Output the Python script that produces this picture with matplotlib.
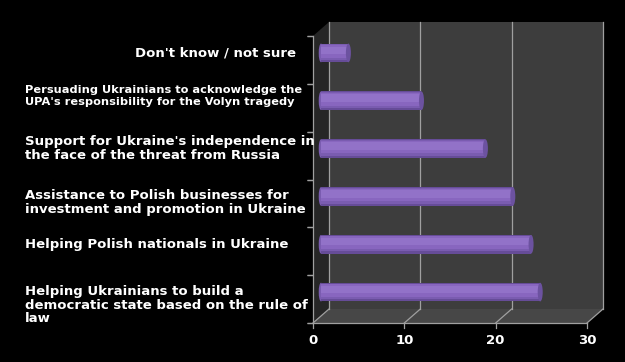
import matplotlib.pyplot as plt
import matplotlib.transforms as mtransforms
from matplotlib.patches import Polygon, Ellipse
import numpy as np

## Data (bottom to top)
labels = ["Helping Ukrainians to build a\ndemocratic state based on the rule of\nlaw",
          "Helping Polish nationals in Ukraine",
          "Assistance to Polish businesses for\ninvestment and promotion in Ukraine",
          "Support for Ukraine's independence in\nthe face of the threat from Russia",
          "Persuading Ukrainians to acknowledge the\nUPA's responsibility for the Volyn tragedy",
          "Don't know / not sure"]
values = [24, 23, 21, 18, 11, 3]
xticks = [0, 10, 20, 30]

W, H = 625, 362
fig = plt.figure(figsize=(W / 100, H / 100), dpi=100, facecolor="black")
# front plane of the 3D box, in pixels
ax = fig.add_axes([313 / W, 39 / H, 274 / W, 287 / H])
ax.set_xlim(0, 30)
ax.set_ylim(-0.5, 5.5)
ax.axis("off")
ax.patch.set_visible(False)

def shifted(dx, dy, base=None):
    base = ax.transData if base is None else base
    return base + mtransforms.ScaledTranslation(dx / 100, dy / 100, fig.dpi_scale_trans)

back = shifted(16, 14)
mid = shifted(8, 7)
y0, y1 = ax.get_ylim()
xmax = xticks[-1]
ident = mtransforms.IdentityTransform()
grid_c = "#a0a0a0"

# back wall
ax.add_patch(plt.Rectangle((0, y0), xmax, y1 - y0, transform=back,
                           facecolor="#3d3d3d", edgecolor="none", zorder=0, clip_on=False))
# floor and side wall
fx0, fy0 = ax.transData.transform((0, y0))
fx1, _ = ax.transData.transform((xmax, y0))
_, fy1 = ax.transData.transform((0, y1))
ax.add_patch(Polygon([(fx0, fy0), (fx1, fy0), (fx1 + 16, fy0 + 14), (fx0 + 16, fy0 + 14)],
                     closed=True, transform=ident, facecolor="#474747", edgecolor="none",
                     zorder=0.5, clip_on=False))
ax.add_patch(Polygon([(fx0, fy0), (fx0 + 16, fy0 + 14), (fx0 + 16, fy1 + 14), (fx0, fy1)],
                     closed=True, transform=ident, facecolor="#262626", edgecolor="none",
                     zorder=0.5, clip_on=False))

# gridlines on back wall + floor diagonals + x tick labels
for t in xticks:
    ax.plot([t, t], [y0, y1], transform=back, color=grid_c, lw=0.9, zorder=1, clip_on=False)
    px, py = ax.transData.transform((t, y0))
    ax.plot([px, px + 16], [py, py + 14], transform=ident, color=grid_c, lw=0.9, zorder=1, clip_on=False)
    ax.plot([px, px], [py, py - 5], transform=ident, color=grid_c, lw=0.9, zorder=1, clip_on=False)
    ax.text(t, y0, str(t), transform=shifted(0, -17), color="white", fontsize=9.5,
            fontweight="bold", ha="center", va="center")
# front axis lines
ax.plot([0, xmax], [y0, y0], color=grid_c, lw=0.9, clip_on=False, zorder=1)
ax.plot([0, 0], [y0, y1], color=grid_c, lw=0.9, clip_on=False, zorder=1)
for yb in np.arange(y0, y1 + 0.1, 1):
    ax.plot([0, 0], [yb, yb], marker=0, ms=4, color=grid_c, mew=0.9, clip_on=False, zorder=1)

# cylinder bars (shaded in layers)
ypos = np.arange(len(values))
h = 0.39
ax.barh(ypos, values, height=h, color="#664c98", transform=mid, zorder=3)
ax.barh(ypos + h * 0.04, values, height=h * 0.84, color="#7a5cb0", transform=mid, zorder=3)
ax.barh(ypos + h * 0.08, values, height=h * 0.68, color="#8866bf", transform=mid, zorder=3)
ax.barh(ypos + h * 0.14, values, height=h * 0.40, color="#9272c8", transform=mid, zorder=3)
for y, v in zip(ypos, values):
    ax.add_patch(Ellipse((v, y), 0.55, h, transform=mid, facecolor="#6c52a0",
                         edgecolor="none", zorder=4))
    ax.add_patch(Ellipse((0, y), 0.5, h, transform=mid, facecolor="#7a5cb0",
                         edgecolor="none", zorder=2.9))

# category labels (pixel nudges to follow the original placement)
sizes = [9.5, 9.5, 9.5, 9.5, 8.2, 9.5]
spacing = [1.05, 1.05, 1.05, 1.05, 1.2, 1.05]
nudge = [-13, 0, -6, 0, 5, 0]
for y, lab, fs, ls, dy in zip(ypos, labels, sizes, spacing, nudge):
    tr = mtransforms.blended_transform_factory(fig.transFigure, mid) + \
        mtransforms.ScaledTranslation(0, dy / 100, fig.dpi_scale_trans)
    if lab.startswith("Don't"):
        ax.text(296 / W, y, lab, transform=tr, ha="right", va="center", color="white",
                fontsize=fs, fontweight="bold")
    else:
        ax.text(25 / W, y, lab, transform=tr, ha="left", va="center", color="white",
                fontsize=fs, fontweight="bold", linespacing=ls)

fig.savefig("out.png", dpi=100, facecolor="black")
